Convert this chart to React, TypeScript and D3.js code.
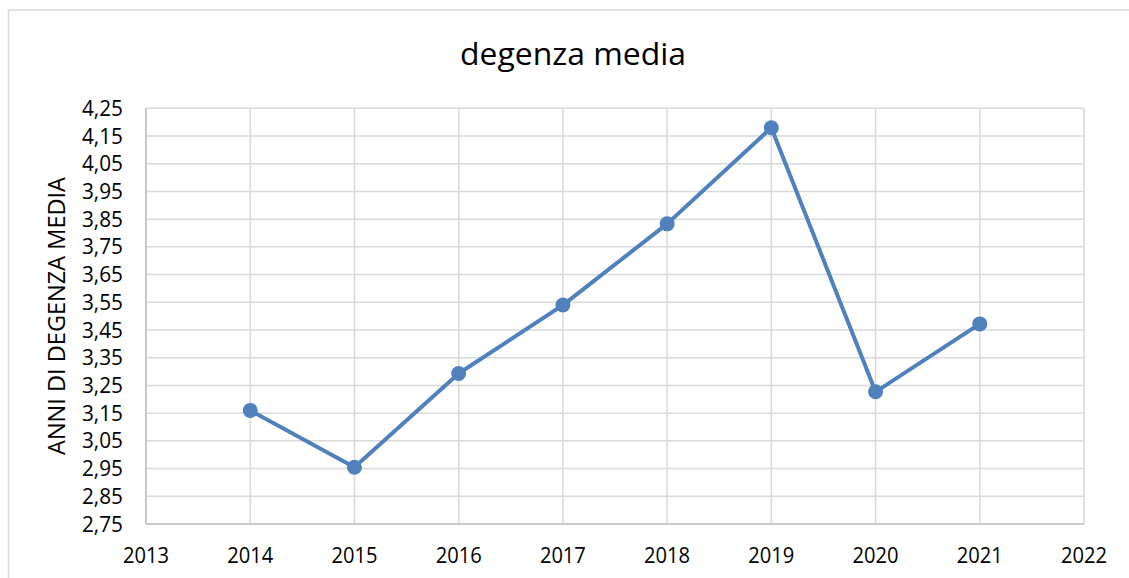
import React, { useEffect, useRef } from 'react';
import * as d3 from 'd3';

// degenza media per anno
const years: number[] = [2014, 2015, 2016, 2017, 2018, 2019, 2020, 2021];
const values: number[] = [3.16, 2.955, 3.293, 3.54, 3.833, 4.18, 3.227, 3.472];
const yTicks: number[] = [2.75, 2.85, 2.95, 3.05, 3.15, 3.25, 3.35, 3.45, 3.55, 3.65, 3.75, 3.85, 3.95, 4.05, 4.15, 4.25];
const xTicks: number[] = [2013, 2014, 2015, 2016, 2017, 2018, 2019, 2020, 2021, 2022];

const title = 'degenza media';
const yTitle = 'ANNI DI DEGENZA MEDIA';

const App = () => {
  const ref = useRef<SVGSVGElement | null>(null);

  useEffect(() => {
    const width = 1129;
    const height = 578;
    const margin = { left: 146, right: 45, top: 108, bottom: 54 };
    const font = '"Open Sans", sans-serif';

    const svg = d3.select(ref.current);
    svg.selectAll('*').remove();

    svg.append('rect')
      .attr('width', width).attr('height', height).attr('fill', '#fff');

    // chart frame (cut off on right/bottom)
    svg.append('rect')
      .attr('x', 8.5).attr('y', 10)
      .attr('width', width + 20).attr('height', height + 20)
      .attr('fill', '#fff')
      .attr('stroke', '#d9d9d9').attr('stroke-width', 1.5);

    const x = d3.scaleLinear()
      .domain([2013, 2022])
      .range([margin.left, width - margin.right]);

    const y = d3.scaleLinear()
      .domain([2.75, 4.25])
      .range([height - margin.bottom, margin.top + 0.3]);

    const fmt = (v: number) => d3.format('.2f')(v).replace('.', ',');

    // grid
    svg.append('g')
      .selectAll('line')
      .data(yTicks)
      .enter()
        .append('line')
          .attr('x1', x(2013)).attr('x2', x(2022))
          .attr('y1', d => y(d)).attr('y2', d => y(d))
          .attr('stroke', '#d9d9d9').attr('stroke-width', 1.5);

    svg.append('g')
      .selectAll('line')
      .data(xTicks)
      .enter()
        .append('line')
          .attr('x1', d => x(d)).attr('x2', d => x(d))
          .attr('y1', y(2.75)).attr('y2', y(4.25))
          .attr('stroke', '#d9d9d9').attr('stroke-width', 1.5);

    // axis lines
    svg.append('line')
      .attr('x1', x(2013)).attr('x2', x(2013))
      .attr('y1', y(2.75)).attr('y2', y(4.25))
      .attr('stroke', '#bfbfbf').attr('stroke-width', 1.5);
    svg.append('line')
      .attr('x1', x(2013)).attr('x2', x(2022))
      .attr('y1', y(2.75)).attr('y2', y(2.75))
      .attr('stroke', '#bfbfbf').attr('stroke-width', 1.5);

    // tick labels
    svg.append('g')
      .selectAll('text')
      .data(yTicks)
      .enter()
        .append('text')
          .attr('x', 123)
          .attr('y', d => y(d) + 7.5)
          .attr('text-anchor', 'end')
          .attr('font-family', font).attr('font-size', 21)
          .attr('textLength', 41).attr('lengthAdjust', 'spacingAndGlyphs')
          .attr('fill', '#000')
          .text(d => fmt(d));

    svg.append('g')
      .selectAll('text')
      .data(xTicks)
      .enter()
        .append('text')
          .attr('x', d => x(d))
          .attr('y', 563)
          .attr('text-anchor', 'middle')
          .attr('font-family', font).attr('font-size', 21)
          .attr('textLength', 46).attr('lengthAdjust', 'spacingAndGlyphs')
          .attr('fill', '#000')
          .text(d => String(d));

    // titles
    svg.append('text')
      .attr('x', 573).attr('y', 65)
      .attr('text-anchor', 'middle')
      .attr('font-family', font).attr('font-size', 31)
      .attr('textLength', 226).attr('lengthAdjust', 'spacingAndGlyphs')
      .attr('fill', '#000')
      .text(title);

    svg.append('text')
      .attr('transform', 'translate(65,316) rotate(-90)')
      .attr('text-anchor', 'middle')
      .attr('font-family', font).attr('font-size', 24)
      .attr('textLength', 278).attr('lengthAdjust', 'spacingAndGlyphs')
      .attr('fill', '#000')
      .text(yTitle);

    // series
    const line = d3.line<number>()
      .x((_, i) => x(years[i]))
      .y(d => y(d));

    svg.append('path')
      .datum(values)
      .attr('d', line)
      .attr('fill', 'none')
      .attr('stroke', '#4f81bd')
      .attr('stroke-width', 4)
      .attr('stroke-linejoin', 'round');

    svg.append('g')
      .selectAll('circle')
      .data(values)
      .enter()
        .append('circle')
          .attr('cx', (_, i) => x(years[i]))
          .attr('cy', d => y(d))
          .attr('r', 7.5)
          .attr('fill', '#4f81bd');
  }, []);

  return (
    <svg
      ref={ref}
      width={1129}
      height={578}
      style={{ position: 'fixed', left: 0, top: 0, display: 'block' }}
    />
  );
};

export default App;
